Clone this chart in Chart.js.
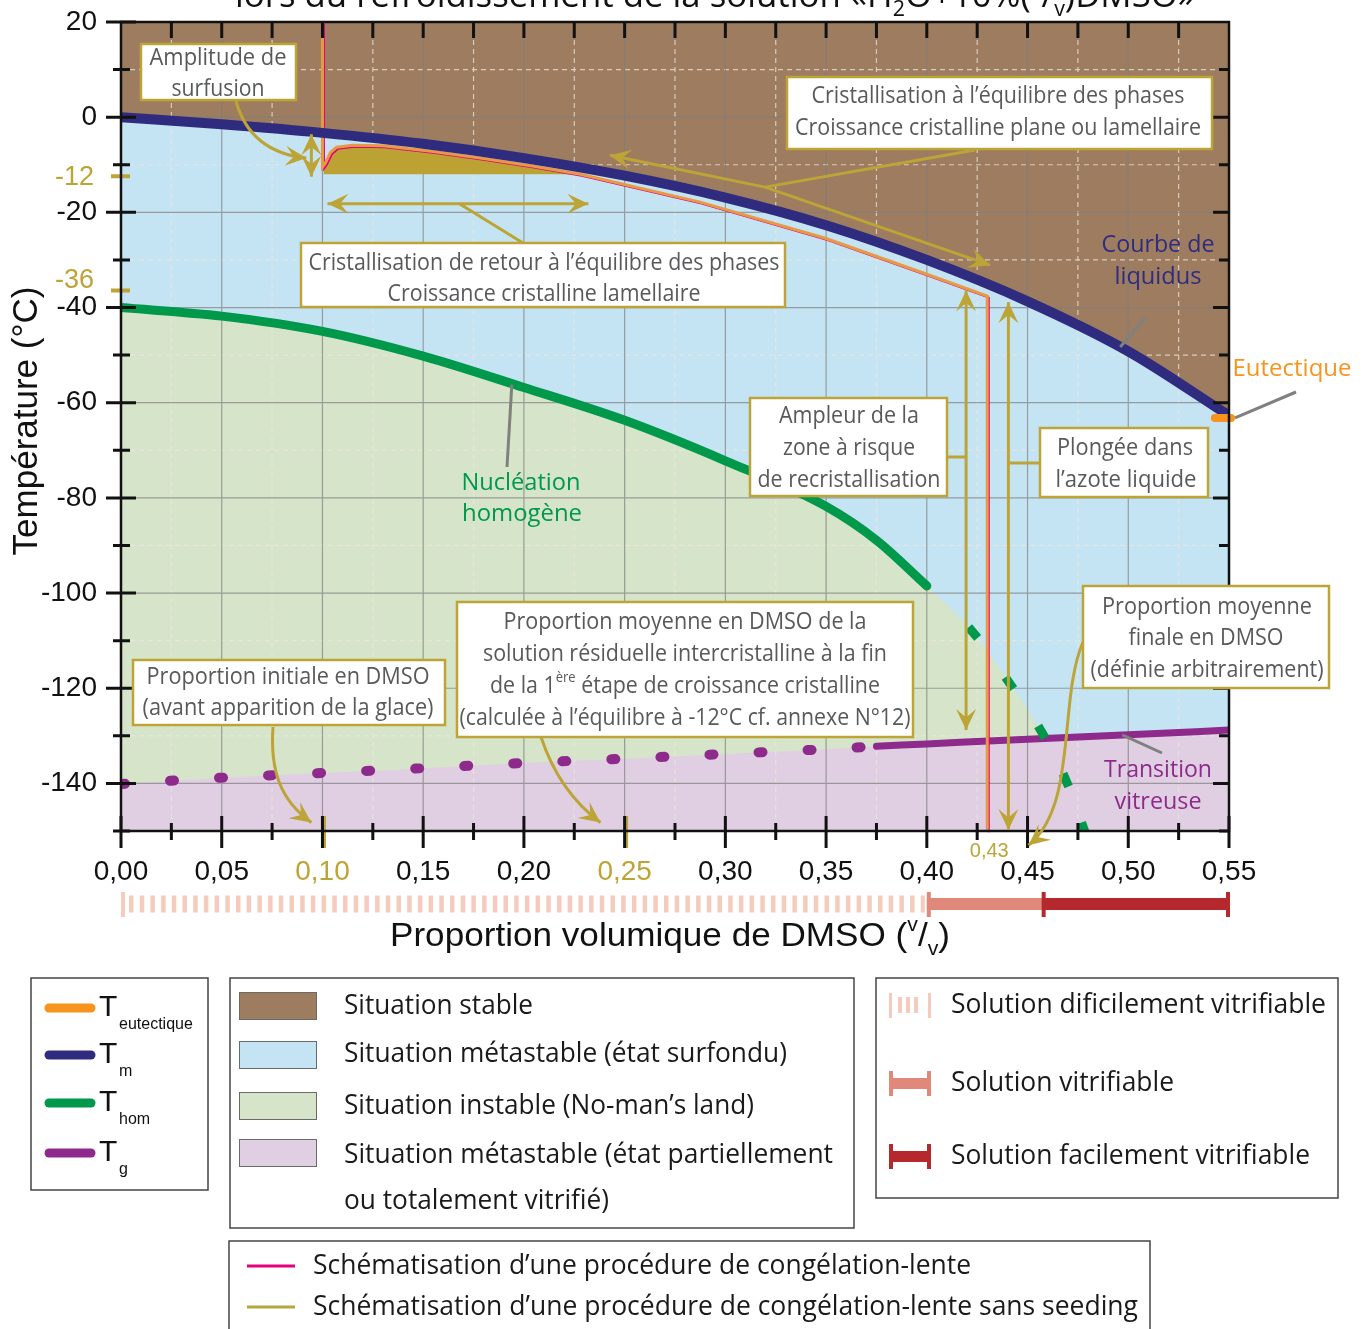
<!DOCTYPE html>
<html>
<head>
<meta charset="utf-8">
<script src="https://cdn.jsdelivr.net/npm/chart.js@4.4.1/dist/chart.umd.min.js"></script>
<style>
  html, body { margin: 0; padding: 0; background: #fff; }
  #wrap { width: 1367px; height: 1329px; }
</style>
</head>
<body>
<div id="wrap"><canvas id="c" width="1367" height="1329"></canvas></div>
<script>
// liquidus (Tm)
const tmX = [0, 0.05, 0.10, 0.15, 0.20, 0.25, 0.30, 0.35, 0.40, 0.45, 0.50, 0.55];
const tmT = [0, -1.5, -3.3, -5.6, -8.6, -12.3, -16.9, -22.7, -30.0, -38.7, -49.2, -62.7];
// homogeneous nucleation (Thom), solid part then dashed extension
const homX = [0, 0.05, 0.10, 0.15, 0.20, 0.25, 0.30, 0.35, 0.375, 0.40];
const homT = [-40, -41.8, -45.0, -50.2, -56.8, -63.7, -72.2, -81.8, -88.9, -98.5];
const homDashX = [0.40, 0.423, 0.441, 0.457, 0.469, 0.478];
const homDashT = [-98.5, -108.3, -118.9, -129.2, -139.3, -149.6];
// glass transition (Tg), dotted up to 0.375 then solid
const tgX = [0, 0.05, 0.10, 0.15, 0.20, 0.25, 0.30, 0.35, 0.375, 0.40, 0.45, 0.50, 0.55];
const tgT = [-140.1, -138.8, -137.8, -136.8, -135.7, -134.8, -133.8, -132.8, -132.2, -131.7, -130.7, -129.8, -128.8];
const tgSolidFrom = 0.375;
// eutectic
const eutX = [0.543, 0.551];
const eutT = [-63.2, -63.2];
// supercooling amplitude block (filled down to -12)
const surfX = [0.1005, 0.1015, 0.104, 0.107, 0.115, 0.13, 0.155, 0.18, 0.205, 0.228];
const surfT = [-10.5, -9.6, -7.4, -6.3, -5.9, -6.0, -7.2, -8.7, -10.3, -12.0];
const surfBase = -12;
// slow freezing path
const freezeX = [0.10, 0.10, 0.1015, 0.104, 0.107, 0.115, 0.13, 0.155, 0.18, 0.205, 0.228, 0.287, 0.35, 0.40, 0.43, 0.43];
const freezeT = [20, -10.5, -9.6, -7.4, -6.3, -5.9, -6.0, -7.2, -8.7, -10.3, -12.0, -17.8, -25.5, -33.0, -37.6, -150];
// vitrifiability bar (limits in DMSO fraction)
const vitriX = [0, 0.40, 0.458, 0.55];

// axes
const xMajor = [0, 0.05, 0.10, 0.15, 0.20, 0.25, 0.30, 0.35, 0.40, 0.45, 0.50, 0.55];
const xLabels = ['0,00', '0,05', '0,10', '0,15', '0,20', '0,25', '0,30', '0,35', '0,40', '0,45', '0,50', '0,55'];
const xGold = [0.10, 0.25];
const yMajor = [20, 0, -20, -40, -60, -80, -100, -120, -140];
const yGold = [-12, -36];
const yGoldShift = [3, -8];

const C = {
  brown: '#9e7c5f', blue: '#c5e4f3', green: '#d6e5c9', lilac: '#e0cfe3',
  navy: '#2f2c7f', hom: '#00984a', tg: '#8e2a8b', eut: '#f7941d',
  gold: '#bca437', block: '#bba233', orange: '#e79a45', pink: '#e5007d',
  txt: '#58595b', grey: '#808080',
  vit1: '#f5cbbd', vit2: '#e0897a', vit3: '#b5292e'
};
const none = 'rgba(0,0,0,0)';
const SANS = '"Open Sans", "Noto Sans", sans-serif';
const ARIAL = '"Liberation Sans", Arial, sans-serif';

const pts = (xs, ys) => xs.map((x, i) => ({ x, y: ys[i] }));

function area(label, xs, ys, fill, color, order) {
  return { label, data: pts(xs, ys), fill, backgroundColor: color, borderColor: none,
    borderWidth: 0, pointRadius: 0, order, cubicInterpolationMode: 'monotone' };
}
function curve(label, xs, ys, color, width, order, extra) {
  return Object.assign({ label, data: pts(xs, ys), fill: false, borderColor: color,
    borderWidth: width, borderCapStyle: 'round', borderJoinStyle: 'round',
    pointRadius: 0, order, cubicInterpolationMode: 'monotone' }, extra || {});
}

const homAllX = homX.concat(homDashX.slice(1));
const homAllT = homT.concat(homDashT.slice(1));
const cut = tgX.indexOf(tgSolidFrom);

// rotation of each nucleation dash, following the dashed curve
function dashAngle(ctx) {
  const ch = ctx.chart, sx = ch.scales.x, sy = ch.scales.y;
  const i = ctx.dataIndex + 1;
  const a = Math.max(0, i - 1), b = Math.min(homDashX.length - 1, i + 1);
  const dx = sx.getPixelForValue(homDashX[b]) - sx.getPixelForValue(homDashX[a]);
  const dy = sy.getPixelForValue(homDashT[b]) - sy.getPixelForValue(homDashT[a]);
  return Math.atan2(dy, dx) * 180 / Math.PI;
}

const straight = { cubicInterpolationMode: 'default', tension: 0, borderCapStyle: 'butt', borderJoinStyle: 'miter' };
const datasets = [
  area('surfondu', tmX, tmT, 'start', C.blue, 30),
  area('stable', tmX, tmT, 'end', C.brown, 29),
  area('instable', homAllX, homAllT, 'start', C.green, 28),
  area('vitrifie', tgX, tgT, 'start', C.lilac, 27),
  area('amplitude', surfX, surfT, { value: surfBase }, C.block, 26),
  curve('Tg pointillé', tgX.slice(0, cut + 1), tgT.slice(0, cut + 1), C.tg, 10, 20,
    { borderDash: [4, 45.1], tension: 0 }),
  curve('Tg', tgX.slice(cut), tgT.slice(cut), C.tg, 7, 20),
  curve('Thom', homX, homT, C.hom, 9, 19),
  { label: 'Thom extrapolée', data: pts(homDashX.slice(1), homDashT.slice(1)), showLine: false,
    pointStyle: 'line', pointRadius: 7, pointBorderWidth: 9, pointBorderColor: C.hom,
    pointBackgroundColor: C.hom, pointRotation: dashAngle, order: 19 },
  curve('congélation lente', freezeX, freezeT, C.pink, 1.8, 16, straight),
  curve('sans seeding', freezeX, freezeT, C.orange, 3, 15, straight),
  curve('Tm', tmX, tmT, C.navy, 10, 10),
  curve('Teutectique', eutX, eutT, C.eut, 8, 9, { clip: false, tension: 0 })
];

// ---------- drawing helpers ----------
function rich(ctx, parts, cx, cy, size, color, family, w, align) {
  if (typeof parts === 'string') parts = [[parts, '']];
  ctx.save();
  const font = k => (k ? Math.round(size * 0.62) : size) + 'px ' + family;
  let total = 0;
  const ws = parts.map(([s, k]) => { ctx.font = font(k); const m = ctx.measureText(s).width; total += m; return m; });
  const sc = w ? w / total : 1;
  const x0 = align === 'left' ? cx : align === 'right' ? cx - total * sc : cx - total * sc / 2;
  ctx.translate(x0, cy);
  ctx.scale(sc, 1);
  ctx.fillStyle = color;
  ctx.textBaseline = 'middle';
  ctx.textAlign = 'left';
  let x = 0;
  parts.forEach(([s, k], i) => {
    ctx.font = font(k);
    const dy = k === 'sub' ? size * 0.38 : k === 'sup' ? -size * 0.36 : 0;
    ctx.fillText(s, x, dy);
    x += ws[i];
  });
  ctx.restore();
}
function poly(ctx, p, color, w) {
  ctx.save();
  ctx.strokeStyle = color; ctx.lineWidth = w; ctx.lineJoin = 'round';
  ctx.beginPath(); ctx.moveTo(p[0][0], p[0][1]);
  for (let i = 1; i < p.length; i++) ctx.lineTo(p[i][0], p[i][1]);
  ctx.stroke(); ctx.restore();
}
function head(ctx, x, y, ang, color) {
  const L = 21, W = 10;
  ctx.save();
  ctx.translate(x, y); ctx.rotate(ang);
  ctx.fillStyle = color;
  ctx.beginPath();
  ctx.moveTo(0, 0); ctx.lineTo(-L, -W); ctx.lineTo(-L * 0.6, 0); ctx.lineTo(-L, W);
  ctx.closePath(); ctx.fill(); ctx.restore();
}
function dbl(ctx, a, b, color) {
  poly(ctx, [a, b], color, 3);
  head(ctx, b[0], b[1], Math.atan2(b[1] - a[1], b[0] - a[0]), color);
  head(ctx, a[0], a[1], Math.atan2(a[1] - b[1], a[0] - b[0]), color);
}
function box(ctx, r) {
  ctx.save();
  ctx.fillStyle = '#fff'; ctx.strokeStyle = C.gold; ctx.lineWidth = 2.5;
  ctx.fillRect(r[0], r[1], r[2] - r[0], r[3] - r[1]);
  ctx.strokeRect(r[0], r[1], r[2] - r[0], r[3] - r[1]);
  ctx.restore();
}

// ---------- plugins ----------
const gridPlugin = {
  id: 'grid',
  beforeDatasetDraw(chart, args) {
    // slight offset so the pink path shows beside the orange one
    if (chart.data.datasets[args.index].label === 'congélation lente') {
      chart.ctx.save(); chart.ctx.translate(1.6, 1.6);
    }
  },
  afterDatasetDraw(chart, args) {
    const lab = chart.data.datasets[args.index].label;
    if (lab === 'congélation lente') { chart.ctx.restore(); return; }
    if (lab !== 'vitrifie') return;
    const { ctx, chartArea: a, scales: { x, y } } = chart;
    ctx.save();
    ctx.beginPath(); ctx.rect(a.left, a.top, a.width, a.height); ctx.clip();
    ctx.lineWidth = 1.2;
    ctx.setLineDash([5, 4]);
    ctx.strokeStyle = 'rgba(236,230,222,0.75)';
    ctx.beginPath();
    xMajor.slice(0, -1).forEach(v => { const p = x.getPixelForValue(v + 0.025); ctx.moveTo(p, a.top); ctx.lineTo(p, a.bottom); });
    yMajor.forEach(v => { const p = y.getPixelForValue(v - 10); ctx.moveTo(a.left, p); ctx.lineTo(a.right, p); });
    ctx.stroke();
    ctx.setLineDash([]);
    ctx.strokeStyle = 'rgba(125,125,125,0.7)';
    ctx.beginPath();
    xMajor.forEach(v => { const p = x.getPixelForValue(v); ctx.moveTo(p, a.top); ctx.lineTo(p, a.bottom); });
    yMajor.forEach(v => { const p = y.getPixelForValue(v); ctx.moveTo(a.left, p); ctx.lineTo(a.right, p); });
    ctx.stroke();
    ctx.restore();
  }
};

function drawNotes(chart) {
  const { ctx, scales: { x, y } } = chart;
  const P = (v, t) => [x.getPixelForValue(v), y.getPixelForValue(t)];
  const g = C.gold;

  // amplitude de surfusion
  dbl(ctx, P(0.0945, -3.6), P(0.0945, -12.5), g);
  ctx.save(); ctx.strokeStyle = g; ctx.lineWidth = 3;
  const e = P(0.092, -8.6);
  ctx.beginPath(); ctx.moveTo(236, 101); ctx.quadraticCurveTo(250, 152, e[0], e[1]); ctx.stroke(); ctx.restore();
  head(ctx, e[0], e[1], Math.atan2(e[1] - 152, e[0] - 250), g);
  box(ctx, [141, 44, 296, 100]);
  rich(ctx, 'Amplitude de', 218, 58, 23, C.txt, SANS, 137);
  rich(ctx, 'surfusion', 218, 89, 23, C.txt, SANS, 93);

  // retour à l'équilibre
  dbl(ctx, P(0.1025, -18.2), P(0.232, -18.2), g);
  poly(ctx, [P(0.168, -18.2), [523, 243]], g, 3);
  box(ctx, [301, 243, 785, 307]);
  rich(ctx, 'Cristallisation de retour à l’équilibre des phases', 544, 263, 23, C.txt, SANS, 471);
  rich(ctx, 'Croissance cristalline lamellaire', 544, 294, 23, C.txt, SANS, 313);

  // cristallisation à l'équilibre
  const k0 = P(0.2427, -8.0), k1 = P(0.3197, -14.7), k2 = P(0.4314, -31.1);
  poly(ctx, [k0, k1, k2], g, 3);
  head(ctx, k0[0], k0[1], Math.atan2(k0[1] - k1[1], k0[0] - k1[0]), g);
  head(ctx, k2[0], k2[1], Math.atan2(k2[1] - k1[1], k2[0] - k1[0]), g);
  poly(ctx, [[975, 150], k1], g, 3);
  box(ctx, [787, 77, 1212, 149]);
  rich(ctx, 'Cristallisation à l’équilibre des phases', 998, 96, 23, C.txt, SANS, 373);
  rich(ctx, 'Croissance cristalline plane ou lamellaire', 998, 128, 23, C.txt, SANS, 406);

  // zone à risque de recristallisation
  const r0 = P(0.4195, -36.4), r1 = P(0.4195, -128.8);
  dbl(ctx, r0, r1, g);
  poly(ctx, [[947, 457], [r0[0], 457]], g, 3);
  box(ctx, [750, 398, 947, 496]);
  rich(ctx, 'Ampleur de la', 849, 416, 23, C.txt, SANS, 140);
  rich(ctx, 'zone à risque', 849, 448, 23, C.txt, SANS, 132);
  rich(ctx, 'de recristallisation', 849, 480, 23, C.txt, SANS, 183);

  // plongée dans l'azote
  const p0 = P(0.4405, -38.9), p1 = P(0.4405, -149.8);
  dbl(ctx, p0, p1, g);
  poly(ctx, [[p0[0], 463], [1040, 463]], g, 3);
  box(ctx, [1040, 428, 1208, 497]);
  rich(ctx, 'Plongée dans', 1125, 448, 23, C.txt, SANS, 136);
  rich(ctx, 'l’azote liquide', 1126, 480, 23, C.txt, SANS, 141);

  // proportions
  const curved = (s, c1, c2, end) => {
    ctx.save(); ctx.strokeStyle = g; ctx.lineWidth = 3; ctx.beginPath(); ctx.moveTo(s[0], s[1]);
    ctx.bezierCurveTo(c1[0], c1[1], c2[0], c2[1], end[0], end[1]); ctx.stroke(); ctx.restore();
    head(ctx, end[0], end[1], Math.atan2(end[1] - c2[1], end[0] - c2[0]), g);
  };
  curved([273, 727], [270, 770], [280, 800], P(0.0945, -148.2));
  box(ctx, [133, 660, 445, 725]);
  rich(ctx, 'Proportion initiale en DMSO', 288, 677, 23, C.txt, SANS, 283);
  rich(ctx, '(avant apparition de la glace)', 288, 708, 23, C.txt, SANS, 291);

  curved([541, 737], [552, 770], [570, 800], P(0.238, -148.2));
  box(ctx, [457, 602, 913, 737]);
  rich(ctx, 'Proportion moyenne en DMSO de la', 685, 622, 23, C.txt, SANS, 363);
  rich(ctx, 'solution résiduelle intercristalline à la fin', 685, 654, 23, C.txt, SANS, 404);
  rich(ctx, [['de la 1', ''], ['ère', 'sup'], [' étape de croissance cristalline', '']], 685, 686, 23, C.txt, SANS, 390);
  rich(ctx, '(calculée à l’équilibre à -12°C cf. annexe N°12)', 685, 718, 23, C.txt, SANS, 451);

  curved([1083, 642], [1058, 700], [1078, 805], P(0.4505, -153));
  box(ctx, [1083, 586, 1329, 688]);
  rich(ctx, 'Proportion moyenne', 1207, 607, 23, C.txt, SANS, 210);
  rich(ctx, 'finale en DMSO', 1206, 638, 23, C.txt, SANS, 155);
  rich(ctx, '(définie arbitrairement)', 1207, 670, 23, C.txt, SANS, 233);

  // curve names with grey pointers
  poly(ctx, [[1145, 318], P(0.496, -48.3)], C.grey, 3);
  rich(ctx, 'Courbe de', 1158, 245, 24, C.navy, SANS, 113);
  rich(ctx, 'liquidus', 1158, 277, 24, C.navy, SANS, 87);
  poly(ctx, [[1296, 392], P(0.553, -63.2)], C.grey, 3);
  rich(ctx, 'Eutectique', 1292, 369, 24, C.eut, SANS, 119);
  poly(ctx, [[507, 467], P(0.194, -56.2)], C.grey, 3);
  rich(ctx, 'Nucléation', 521, 483, 24, C.hom, SANS, 119);
  rich(ctx, 'homogène', 522, 514, 24, C.hom, SANS, 120);
  poly(ctx, [[1162, 753], P(0.497, -129.8)], C.grey, 3);
  rich(ctx, 'Transition', 1158, 770, 24, C.tg, SANS, 108);
  rich(ctx, 'vitreuse', 1158, 802, 24, C.tg, SANS, 87);
}

const axesPlugin = {
  id: 'axes',
  afterDatasetsDraw(chart) {
    const { ctx, chartArea: a, scales: { x, y } } = chart;
    ctx.save();
    // gold marks
    ctx.strokeStyle = C.gold; ctx.lineWidth = 4;
    ctx.beginPath();
    yGold.forEach(v => { const p = y.getPixelForValue(v) + 2; ctx.moveTo(a.left - 10, p); ctx.lineTo(a.left + 9, p); });
    ctx.stroke();
    ctx.lineWidth = 3;
    ctx.beginPath();
    xGold.forEach(v => { const p = x.getPixelForValue(v) + 2; ctx.moveTo(p, a.bottom - 15); ctx.lineTo(p, a.bottom + 17); });
    ctx.stroke();
    // frame and ticks
    ctx.strokeStyle = '#111'; ctx.lineWidth = 2.5;
    ctx.strokeRect(a.left, a.top, a.width, a.height);
    ctx.lineWidth = 3;
    ctx.beginPath();
    xMajor.forEach((v, i) => {
      const p = x.getPixelForValue(v);
      ctx.moveTo(p, a.bottom - 15); ctx.lineTo(p, a.bottom + 17);
      if (i > 0 && i < xMajor.length - 1) { ctx.moveTo(p, a.top); ctx.lineTo(p, a.top + 16); }
      if (i < xMajor.length - 1) {
        const q = x.getPixelForValue(v + 0.025);
        ctx.moveTo(q, a.bottom - 8); ctx.lineTo(q, a.bottom + 9);
        ctx.moveTo(q, a.top); ctx.lineTo(q, a.top + 16);
      }
    });
    yMajor.forEach((v, i) => {
      const p = y.getPixelForValue(v), q = y.getPixelForValue(v - 10);
      ctx.moveTo(a.left - 15, p); ctx.lineTo(a.left + 15, p);
      ctx.moveTo(a.left - 8, q); ctx.lineTo(a.left + 9, q);
      if (i > 0) { ctx.moveTo(a.right - 16, p); ctx.lineTo(a.right, p); }
      ctx.moveTo(a.right - 10, q); ctx.lineTo(a.right, q);
    });
    ctx.stroke();
    ctx.restore();

    // annotations sit above the frame
    drawNotes(chart);

    // tick labels
    yMajor.forEach(v => rich(ctx, String(v), 97, y.getPixelForValue(v), 28, '#111', ARIAL, 0, 'right'));
    yGold.forEach((v, i) => rich(ctx, String(v), 94, y.getPixelForValue(v) + yGoldShift[i], 27, C.gold, ARIAL, 0, 'right'));
    xMajor.forEach((v, i) => {
      const gold = xGold.includes(v);
      rich(ctx, xLabels[i], x.getPixelForValue(v), 872, 28, gold ? C.gold : '#111', ARIAL);
    });
    rich(ctx, '0,43', x.getPixelForValue(0.43) + 2, 851, 20, C.gold, ARIAL);

    // axis titles and title
    ctx.save(); ctx.translate(27, 421); ctx.rotate(-Math.PI / 2);
    rich(ctx, 'Température (°C)', 0, 0, 35, '#111', ARIAL, 0);
    ctx.restore();
    rich(ctx, [['Proportion volumique de DMSO (', ''], ['v', 'sup'], ['/', ''], ['v', 'sub'], [')', '']], 670, 937, 33, '#111', ARIAL, 560);
    rich(ctx, [['lors du refroidissement de la solution «H', ''], ['2', 'sub'], ['O+10%(', ''], ['v', 'sup'], ['/', ''], ['v', 'sub'], [')DMSO»', '']],
      715, -3, 34, '#111', SANS, 960);

    // vitrifiability bar
    const v0 = x.getPixelForValue(vitriX[0]), v1 = x.getPixelForValue(vitriX[1]),
          v2 = x.getPixelForValue(vitriX[2]), v3 = x.getPixelForValue(vitriX[3]);
    const yb = 904;
    ctx.save();
    ctx.strokeStyle = C.vit1; ctx.lineWidth = 17; ctx.setLineDash([4.5, 6.2]);
    ctx.beginPath(); ctx.moveTo(v0 + 8, yb); ctx.lineTo(v1 - 2, yb); ctx.stroke();
    ctx.setLineDash([]);
    ctx.fillStyle = C.vit1; ctx.fillRect(v0, yb - 12, 4, 25);
    ctx.fillStyle = C.vit2; ctx.fillRect(v1, yb - 6, v2 - v1, 12); ctx.fillRect(v1, yb - 12, 4, 25);
    ctx.fillStyle = C.vit3; ctx.fillRect(v2, yb - 6, v3 - v2, 12); ctx.fillRect(v2 - 2, yb - 12, 4, 25); ctx.fillRect(v3 - 3, yb - 12, 4, 25);
    ctx.restore();

    drawLegends(ctx);
  }
};

function drawLegends(ctx) {
  ctx.save();
  ctx.strokeStyle = '#444'; ctx.lineWidth = 1.5;
  ctx.strokeRect(31, 978, 177, 212);
  ctx.strokeRect(230, 978, 624, 250);
  ctx.strokeRect(876, 978, 462, 220);
  ctx.strokeRect(229, 1241, 921, 120);

  // curves
  const rows = [[1008, C.eut, 'eutectique'], [1055, C.navy, 'm'], [1103, C.hom, 'hom'], [1153, C.tg, 'g']];
  rows.forEach(([yy, col, sub]) => {
    ctx.strokeStyle = col; ctx.lineWidth = 9; ctx.lineCap = 'round';
    ctx.beginPath(); ctx.moveTo(49, yy); ctx.lineTo(91, yy); ctx.stroke();
    rich(ctx, 'T', 99, yy, 30, '#111', ARIAL, 0, 'left');
    rich(ctx, sub, 119, yy + 17, 16, '#111', ARIAL, 0, 'left');
  });
  ctx.lineCap = 'butt';

  // zones
  const zones = [[992, C.brown], [1041, C.blue], [1092, C.green], [1139, C.lilac]];
  zones.forEach(([yy, col]) => {
    ctx.fillStyle = col; ctx.fillRect(239, yy, 77, 27);
    ctx.strokeStyle = '#6a6a6a'; ctx.lineWidth = 1; ctx.strokeRect(239.5, yy + 0.5, 77, 27);
  });
  rich(ctx, 'Situation stable', 344, 1006, 27, '#1a1a1a', SANS, 189, 'left');
  rich(ctx, 'Situation métastable (état surfondu)', 344, 1054, 27, '#1a1a1a', SANS, 443, 'left');
  rich(ctx, 'Situation instable (No-man’s land)', 344, 1106, 27, '#1a1a1a', SANS, 410, 'left');
  rich(ctx, 'Situation métastable (état partiellement', 344, 1155, 27, '#1a1a1a', SANS, 489, 'left');
  rich(ctx, 'ou totalement vitrifié)', 344, 1201, 27, '#1a1a1a', SANS, 265, 'left');

  // vitrifiability
  ctx.fillStyle = C.vit1; ctx.fillRect(889, 993, 3, 25); ctx.fillRect(928, 993, 3, 25);
  [898, 906, 914].forEach(xx => ctx.fillRect(xx, 997, 4, 16));
  ctx.fillStyle = C.vit2; ctx.fillRect(889, 1078, 42, 11); ctx.fillRect(889, 1071, 4, 25); ctx.fillRect(927, 1071, 4, 25);
  ctx.fillStyle = C.vit3; ctx.fillRect(889, 1151, 42, 11); ctx.fillRect(889, 1144, 4, 25); ctx.fillRect(927, 1144, 4, 25);
  rich(ctx, 'Solution dificilement vitrifiable', 951, 1005, 28, '#1a1a1a', SANS, 375, 'left');
  rich(ctx, 'Solution vitrifiable', 951, 1083, 28, '#1a1a1a', SANS, 223, 'left');
  rich(ctx, 'Solution facilement vitrifiable', 951, 1156, 28, '#1a1a1a', SANS, 359, 'left');

  // procedures
  ctx.lineWidth = 3;
  ctx.strokeStyle = C.pink; ctx.beginPath(); ctx.moveTo(247, 1266); ctx.lineTo(295, 1266); ctx.stroke();
  ctx.strokeStyle = '#b5a640'; ctx.beginPath(); ctx.moveTo(247, 1307); ctx.lineTo(295, 1307); ctx.stroke();
  rich(ctx, 'Schématisation d’une procédure de congélation-lente', 313, 1266, 27, '#1a1a1a', SANS, 658, 'left');
  rich(ctx, 'Schématisation d’une procédure de congélation-lente sans seeding', 313, 1307, 27, '#1a1a1a', SANS, 825, 'left');
  ctx.restore();
}

new Chart(document.getElementById('c'), {
  type: 'line',
  data: { datasets },
  options: {
    responsive: false,
    animation: false,
    devicePixelRatio: 1,
    layout: { padding: { left: 121, right: 138, top: 22, bottom: 498 } },
    scales: {
      x: { type: 'linear', min: 0, max: 0.55, display: false },
      y: { type: 'linear', min: -150, max: 20, display: false }
    },
    plugins: { legend: { display: false }, tooltip: { enabled: false } },
    elements: { point: { radius: 0 } }
  },
  plugins: [gridPlugin, axesPlugin]
});
</script>
</body>
</html>
